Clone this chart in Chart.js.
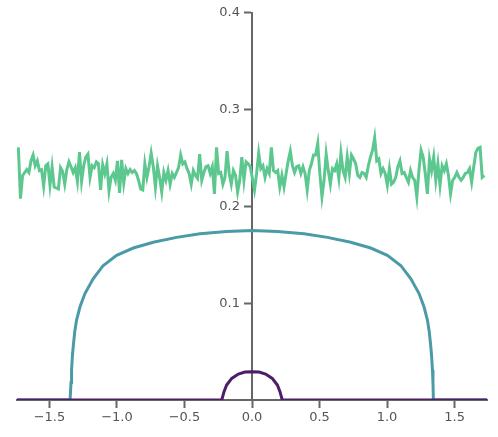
<!DOCTYPE html>
<html>
<head>
<meta charset="utf-8">
<script src="https://cdn.jsdelivr.net/npm/chart.js@4"></script>
<style>
html,body{margin:0;padding:0;background:#fff;}
canvas{display:block;}
</style>
</head>
<body>
<canvas id="c" width="498" height="437" style="width:498px;height:437px"></canvas>
<script>
// ---- data ----
const greenValues = [
0.261,0.208,0.232,0.235,0.238,0.235,0.247,0.253,0.242,0.247,0.237,0.238,0.221,0.242,0.244,0.222,0.241,0.220,0.219,0.218,0.240,0.236,0.223,0.238,0.246,0.241,0.235,0.240,0.226,0.256,0.226,0.242,0.251,0.254,0.230,0.242,0.240,0.246,0.244,0.217,0.243,0.234,0.244,0.216,0.230,0.234,0.227,0.247,0.214,0.248,0.224,0.239,
0.234,0.238,0.235,0.237,0.234,0.227,0.218,0.217,0.244,0.230,0.241,0.255,0.241,0.220,0.242,0.230,0.215,0.235,0.227,0.237,0.223,0.234,0.230,0.235,0.240,0.253,0.244,0.246,0.239,0.234,0.223,0.237,0.232,0.229,0.254,0.227,0.235,0.241,0.242,0.234,0.241,0.213,0.261,0.234,0.235,0.223,0.230,0.257,0.234,0.223,0.237,0.232,0.215,0.227,0.251,
0.227,0.246,0.244,0.241,0.229,0.217,0.234,0.255,0.239,0.242,0.230,0.239,0.234,0.261,0.237,0.235,0.237,0.220,0.232,0.220,0.234,0.247,0.257,0.242,0.235,0.241,0.242,0.234,0.241,0.234,0.217,0.237,0.244,0.253,0.253,0.265,0.234,0.210,0.227,0.254,0.237,0.223,0.239,0.237,0.244,0.229,0.255,0.237,0.230,0.251,0.234,0.253,0.249,0.244,0.232,0.230,0.235,0.234,0.230,
0.242,0.251,0.258,0.271,0.247,0.249,0.234,0.239,0.234,0.222,0.239,0.223,0.225,0.230,0.241,0.247,0.234,0.235,0.230,0.225,0.237,0.230,0.227,0.210,0.237,0.258,0.251,0.234,0.213,0.249,0.237,0.251,0.227,0.244,0.222,0.242,0.237,0.244,0.232,0.213,0.227,0.230,0.235,0.230,0.227,0.230,0.234,0.235,0.239,0.225,0.241,0.256,0.260,0.261,0.230,0.232
];
const greenStart = -1.73;
const greenEnd = 1.72;

const tealX = [-1.74,-1.347,-1.340,-1.336,-1.330,-1.324,-1.312,-1.299,-1.274,-1.237,-1.175,-1.101,-1.002,-0.879,-0.731,-0.558,-0.385,-0.188,0,
               0.188,0.385,0.558,0.731,0.879,1.002,1.101,1.175,1.237,1.274,1.299,1.312,1.324,1.330,1.336,1.340,1.343,1.74];
const tealY = [0,0,0.018,0.031,0.045,0.055,0.071,0.0825,0.096,0.110,0.1254,0.139,0.1495,0.157,0.163,0.168,0.1718,0.174,0.175,
               0.174,0.1718,0.168,0.163,0.157,0.1495,0.139,0.1254,0.110,0.096,0.0825,0.071,0.055,0.045,0.031,0.018,0,0];

const purpleX = [-1.74,-0.224,-0.207,-0.188,-0.150,-0.101,-0.052,0,0.052,0.101,0.150,0.188,0.207,0.224,1.74];
const purpleY = [0,0,0.0086,0.0155,0.0223,0.0268,0.0289,0.0292,0.0289,0.0268,0.0223,0.0155,0.0086,0,0];

const xTicks = [-1.5,-1.0,-0.5,0.0,0.5,1.0,1.5];
const yTicks = [0.1,0.2,0.3,0.4];
const xMin = -1.74, xMax = 1.74, yMin = 0, yMax = 0.4;

// ---- build datasets ----
const greenData = greenValues.map((v,i)=>({x: greenStart + i*(greenEnd-greenStart)/(greenValues.length-1), y: v}));
const tealData = tealX.map((x,i)=>({x, y: tealY[i]}));
const purpleData = purpleX.map((x,i)=>({x, y: purpleY[i]}));

const fmt = v => {
  const s = Math.abs(v).toFixed(1);
  return (v < -1e-9 ? '\u2212' : '') + s;
};

const axisColor = '#666666';
const labelColor = '#555555';
const font = {family: "'DejaVu Sans', sans-serif", size: 13};
const yTickLen = 7, yTickPad = 5;

// Chart.js places labels of a value-positioned y axis right at the spine;
// shift them left past the tick marks (matplotlib style).
const shiftYLabels = {
  id: 'shiftYLabels',
  beforeDraw(chart) {
    const scale = chart.scales.y;
    const items = scale.getLabelItems(chart.chartArea);
    if (!items._shifted) {
      items.forEach(it => { it.options.translation[0] -= (yTickLen + yTickPad); it.options.textAlign = 'right'; });
      items._shifted = true;
    }
  }
};

new Chart(document.getElementById('c'), {
  type: 'line',
  data: {
    datasets: [
      {data: purpleData, borderColor: '#4d1d68', borderWidth: 3, pointRadius: 0, tension: 0, fill: false},
      {data: tealData, borderColor: '#4b9aa8', borderWidth: 3, pointRadius: 0, tension: 0, fill: false},
      {data: greenData, borderColor: '#5cc78e', borderWidth: 3, pointRadius: 0, tension: 0, fill: false}
    ]
  },
  options: {
    responsive: false,
    devicePixelRatio: 1,
    animation: false,
    layout: {padding: {left: 17, right: 11, top: 12, bottom: 37}},
    plugins: {legend: {display: false}, tooltip: {enabled: false}},
    scales: {
      x: {
        type: 'linear',
        min: xMin, max: xMax,
        position: {y: 0},
        z: 0,
        border: {display: true, color: axisColor, width: 2},
        grid: {drawOnChartArea: false, drawTicks: true, tickLength: 7, tickWidth: 2, tickColor: axisColor},
        afterBuildTicks: s => { s.ticks = xTicks.map(v => ({value: v})); },
        ticks: {includeBounds: false, color: labelColor, font, padding: 3, maxRotation: 0, autoSkip: false, callback: v => fmt(v)}
      },
      y: {
        type: 'linear',
        min: yMin, max: yMax,
        position: {x: 0},
        z: 1,
        border: {display: true, color: axisColor, width: 2},
        grid: {drawOnChartArea: false, drawTicks: true, tickLength: yTickLen, tickWidth: 2, tickColor: axisColor},
        afterBuildTicks: s => { s.ticks = yTicks.map(v => ({value: v})); },
        ticks: {includeBounds: false, color: labelColor, font, padding: yTickPad, autoSkip: false, callback: v => fmt(v)}
      }
    }
  },
  plugins: [shiftYLabels]
});
</script>
</body>
</html>
